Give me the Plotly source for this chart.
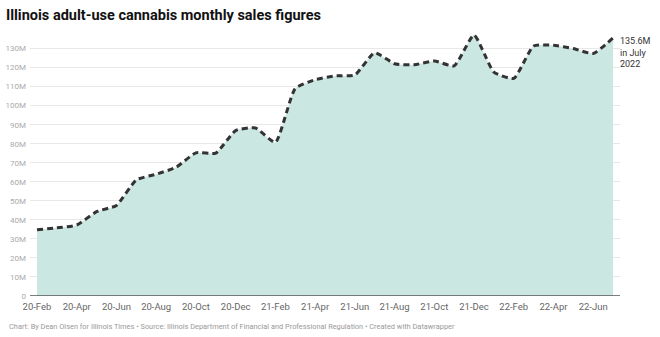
import plotly.graph_objects as go

months = ["2020-02","2020-03","2020-04","2020-05","2020-06","2020-07","2020-08","2020-09","2020-10","2020-11","2020-12",
          "2021-01","2021-02","2021-03","2021-04","2021-05","2021-06","2021-07","2021-08","2021-09","2021-10","2021-11","2021-12",
          "2022-01","2022-02","2022-03","2022-04","2022-05","2022-06","2022-07"]
sales_m = [34.8, 35.8, 37.3, 44.3, 47.6, 61.0, 64.0, 67.6, 75.2, 75.1, 86.9,
           88.3, 80.7, 109.0, 113.6, 115.6, 116.1, 127.8, 122.0, 121.5, 123.5, 120.9, 137.1,
           117.6, 114.3, 131.3, 131.7, 130.0, 127.4, 135.6]
tick_labels = ["20-Feb","20-Apr","20-Jun","20-Aug","20-Oct","20-Dec","21-Feb","21-Apr","21-Jun","21-Aug","21-Oct","21-Dec","22-Feb","22-Apr","22-Jun"]
y_ticks = list(range(0, 131, 10))
y_tick_text = ["0"] + [f"{v}M" for v in y_ticks[1:]]

x = list(range(len(months)))

fig = go.Figure()
fig.add_trace(go.Scatter(
    x=x, y=sales_m, mode="lines",
    line=dict(color="#333333", width=3, dash="6px,4px", shape="spline", smoothing=0.5),
    fill="tozeroy", fillcolor="#cbe7e2",
    hoverinfo="skip", showlegend=False,
))

fig.add_annotation(
    x=x[-1], y=sales_m[-1], xref="x", yref="y",
    text=f"{sales_m[-1]}M<br>in July<br>2022",
    showarrow=False, xanchor="left", yanchor="top", align="left",
    xshift=5, yshift=4,
    font=dict(family="Roboto", size=9, color="#333333"),
)

fig.update_layout(
    width=660, height=337,
    margin=dict(l=30, r=40, t=20, b=41),
    paper_bgcolor="white", plot_bgcolor="white",
    font=dict(family="Roboto"),
    title=dict(text="<b>Illinois adult-use cannabis monthly sales figures</b>",
               x=0.009, xanchor="left", y=0.955, yanchor="middle",
               font=dict(family="Roboto", size=14.5, color="#111111")),
    xaxis=dict(range=[-0.352, 29.35], tickvals=x[::2], ticktext=tick_labels,
               showgrid=False, zeroline=False, showline=False, automargin=False,
               ticks="", tickfont=dict(size=9.5, color="#666666"), ticklabelstandoff=3),
    yaxis=dict(range=[0, 145], tickvals=y_ticks, ticktext=y_tick_text, automargin=False,
               showgrid=True, gridcolor="#e8e8e8", gridwidth=1, zeroline=False,
               ticks="", tickfont=dict(size=8, color="#aaaaaa"), ticklabelstandoff=3),
)
fig.add_shape(type="line", xref="paper", yref="y", x0=0, x1=1, y0=0, y1=0,
              line=dict(color="#555555", width=1.5))

fig.add_annotation(
    text="Chart: By Dean Olsen for Illinois Times • Source: Illinois Department of Financial and Professional Regulation • Created with Datawrapper",
    xref="paper", yref="paper", x=-0.039, y=-0.109, xanchor="left", yanchor="middle",
    showarrow=False, font=dict(family="Roboto", size=7.4, color="#999999"),
)

fig.write_html("out.html")
